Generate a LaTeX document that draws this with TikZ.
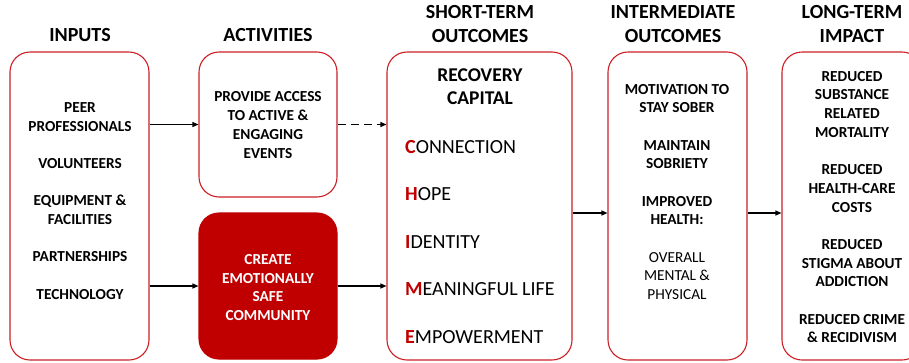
\documentclass[tikz,border=0pt]{standalone}
\usepackage{fontspec}
\setmainfont{Carlito}
\usetikzlibrary{arrows.meta}
\definecolor{framered}{RGB}{204,32,38}
\definecolor{darkred}{RGB}{192,0,0}
\newcommand{\firstletter}[1]{\textcolor{darkred}{\bfseries #1}}
\tikzset{
  box/.style={draw=framered, line width=1.1pt, rounded corners=20pt, fill=white, inner sep=0pt},
  head/.style={font=\fontsize{20}{24.4}\selectfont\bfseries, align=center},
  body/.style={font=\fontsize{15.3}{18.7}\selectfont\bfseries, align=center},
  item/.style={font=\fontsize{20}{24}\selectfont, anchor=west, inner sep=0pt},
  arr/.style={-{Triangle[length=6pt,width=5pt]}, line width=1.2pt}
}
\begin{document}
\begin{tikzpicture}[x=1pt, y=-1pt]
            \useasboundingbox (0,0) rectangle (909,362);
            % Headers
            \node[head] (HInputs) at (80, 35) {INPUTS};
            \node[head] (HActivities) at (268, 35) {ACTIVITIES};
            \node[head] (HShort) at (480, 24) {SHORT-TERM\\OUTCOMES};
            \node[head] (HInter) at (673, 24) {INTERMEDIATE\\OUTCOMES};
            \node[head] (HLong) at (852, 24) {LONG-TERM\\IMPACT};

            % Boxes
            \node[box, minimum width=139pt, minimum height=308pt] (Inputs) at (79.5, 206) {};
            \node[box, minimum width=138pt, minimum height=145pt] (Access) at (268, 124.5) {};
            \node[box, fill=darkred, draw=darkred, minimum width=138pt, minimum height=146pt] (Safe) at (268, 286) {};
            \node[box, minimum width=185pt, minimum height=308pt] (Short) at (479.5, 206) {};
            \node[box, minimum width=139pt, minimum height=308pt] (Inter) at (677.5, 206) {};
            \node[box, minimum width=140pt, minimum height=308pt] (Long) at (852, 206) {};

            % Box texts
            \node[body] (TInputs) at (80, 201) {PEER\\PROFESSIONALS\\[18.6pt]VOLUNTEERS\\[18.6pt]EQUIPMENT \&\\FACILITIES\\[18.6pt]PARTNERSHIPS\\[18.6pt]TECHNOLOGY};
            \node[body] (TAccess) at (268, 125) {PROVIDE ACCESS\\TO ACTIVE \&\\ENGAGING\\EVENTS};
            \node[body, text=white] (TSafe) at (268, 287.5) {CREATE\\EMOTIONALLY\\SAFE\\COMMUNITY};
            \node[body, font=\fontsize{19.5}{23.3}\selectfont\bfseries] (TCapital) at (480, 86.5) {RECOVERY\\CAPITAL};
            \node[item] (Connection) at (405, 147) {\firstletter{C}ONNECTION};
            \node[item] (Hope) at (405, 194) {\firstletter{H}OPE};
            \node[item] (Identity) at (405, 242) {\firstletter{I}DENTITY};
            \node[item] (Meaning) at (405, 289) {\firstletter{M}EANINGFUL LIFE};
            \node[item] (Empower) at (405, 337) {\firstletter{E}MPOWERMENT};
            \node[body] (TInter) at (677, 192) {MOTIVATION TO\\STAY SOBER\\[18.6pt]MAINTAIN\\SOBRIETY\\[18.6pt]IMPROVED\\HEALTH:\\[18.6pt]{\mdseries OVERALL}\\{\mdseries MENTAL \&}\\{\mdseries PHYSICAL}};
            \node[body] (TLong) at (852, 207) {REDUCED\\SUBSTANCE\\RELATED\\MORTALITY\\[18.6pt]REDUCED\\HEALTH-CARE\\COSTS\\[18.6pt]REDUCED\\STIGMA ABOUT\\ADDICTION\\[18.6pt]REDUCED CRIME\\\& RECIDIVISM};

            % Arrows
            \draw[arr] (Inputs.east |- Access.west) -- (Access.west);
            \draw[arr] (Inputs.east |- Safe.west) -- (Safe.west);
            \draw[arr, dash pattern=on 8pt off 5pt] (Access.east) -- (Short.west |- Access.east);
            \draw[arr] (Safe.east) -- (Short.west |- Safe.east);
            \draw[arr] ([yshift=-7pt]Short.east) -- ([yshift=-7pt]Inter.west);
            \draw[arr] ([yshift=-7pt]Inter.east) -- ([yshift=-7pt]Long.west);
\end{tikzpicture}
\end{document}
